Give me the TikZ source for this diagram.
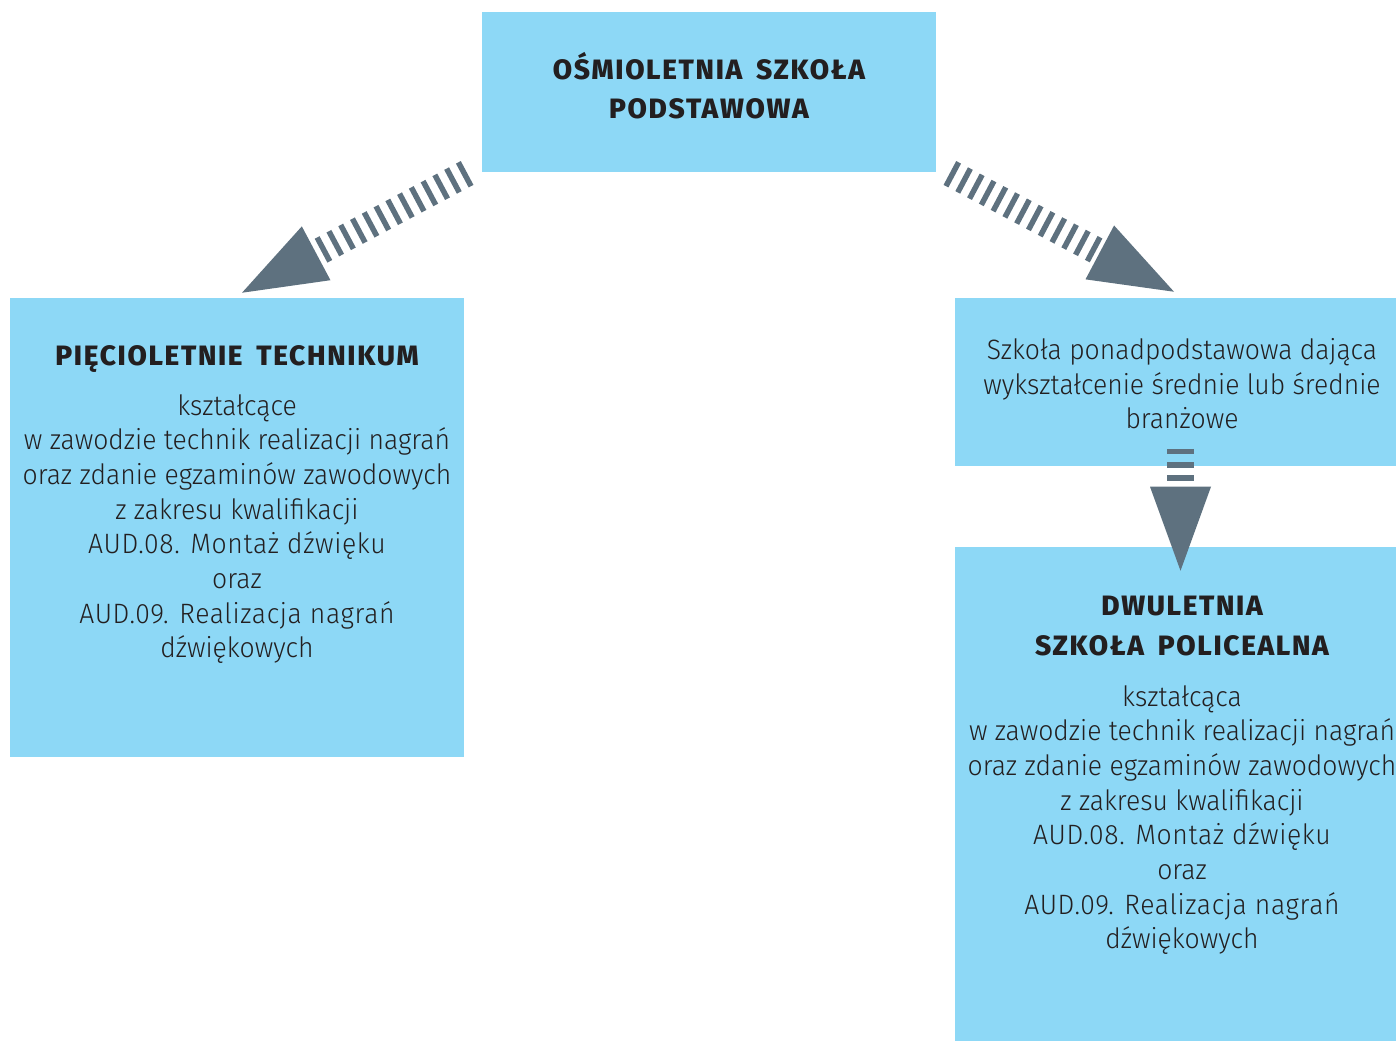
\documentclass[tikz,border=0pt]{standalone}
\usepackage{fontspec}
\usepackage{xcolor}
\usepackage{tikz}
\usetikzlibrary{arrows.meta,calc}
\setmainfont{Fira Sans Light}[FakeStretch=0.947]
\newfontfamily\headfont{Fira Sans ExtraBold}[LetterSpace=6,WordSpace=1.7]
\newcommand{\codeline}[1]{{\addfontfeature{LetterSpace=2.3}#1}}

\definecolor{boxblue}{RGB}{141,216,246}
\definecolor{arrowgrey}{RGB}{94,113,127}
\definecolor{inkdark}{RGB}{35,31,32}

\tikzset{
  schoolbox/.style={fill=boxblue, draw=none, inner sep=0pt, minimum width=340.5pt},
  headtext/.style={font=\headfont\fontsize{21}{29.5}\selectfont, text=inkdark, align=center, inner sep=0pt},
  bodytext/.style={font=\fontsize{21}{26}\selectfont, text=inkdark, align=center, inner sep=0pt},
  hatcharrow/.style={draw=arrowgrey, line width=20.25pt, dash pattern=on 4.1pt off 5.9pt,
    -{Triangle[length=63pt,width=45.75pt,line width=0pt]}}
}

\begin{document}
\begin{tikzpicture}[x=0.75pt,y=0.75pt,yscale=-1,xscale=1]
\clip (0,0) rectangle (1396,1040);

% Boxes
\node [schoolbox, minimum height=120pt] (podst) at (709,92) {};
\node [schoolbox, minimum height=344.25pt] (tech) at (237,527.5) {};
\node [schoolbox, minimum height=126pt] (ponad) at (1182,382) {};
\node [schoolbox, minimum height=379.5pt] (polic) at (1182,800) {};

% Text Node
\node [headtext, anchor=north] (podsttxt) at (709,52) {OŚMIOLETNIA SZKOŁA\\PODSTAWOWA};
% Text Node
\node [headtext, anchor=north] (techhead) at (237,345) {PIĘCIOLETNIE TECHNIKUM};
\node [bodytext, anchor=north] (techbody) at (237,394) {kształcące\\w zawodzie technik realizacji nagrań\\oraz zdanie egzaminów zawodowych\\z zakresu kwalifikacji\\\codeline{AUD.08. Montaż dźwięku}\\oraz\\\codeline{AUD.09. Realizacja nagrań}\\dźwiękowych};
% Text Node
\node [bodytext, anchor=north] (ponadtxt) at (1182,338) {Szkoła ponadpodstawowa dająca\\wykształcenie średnie lub średnie\\branżowe};
% Text Node
\node [headtext, anchor=north] (polichead) at (1182,596) {DWULETNIA\\SZKOŁA POLICEALNA};
\node [bodytext, anchor=north] (policbody) at (1182,685) {kształcąca\\w zawodzie technik realizacji nagrań\\oraz zdanie egzaminów zawodowych\\z zakresu kwalifikacji\\\codeline{AUD.08. Montaż dźwięku}\\oraz\\\codeline{AUD.09. Realizacja nagrań}\\dźwiękowych};

% Arrows
\draw [hatcharrow] ($(podst.south west)+(-14.6,0.7)$) -- ($(tech.north)+(5,-5)$);
\draw [hatcharrow] ($(podst.south east)+(13.6,0.7)$) -- ($(ponad.north)+(-8,-6)$);
\draw [hatcharrow] ($(ponad.south)+(-1.5,-17.5)$) -- ($(polic.north)+(-1.5,24)$);

\end{tikzpicture}
\end{document}
